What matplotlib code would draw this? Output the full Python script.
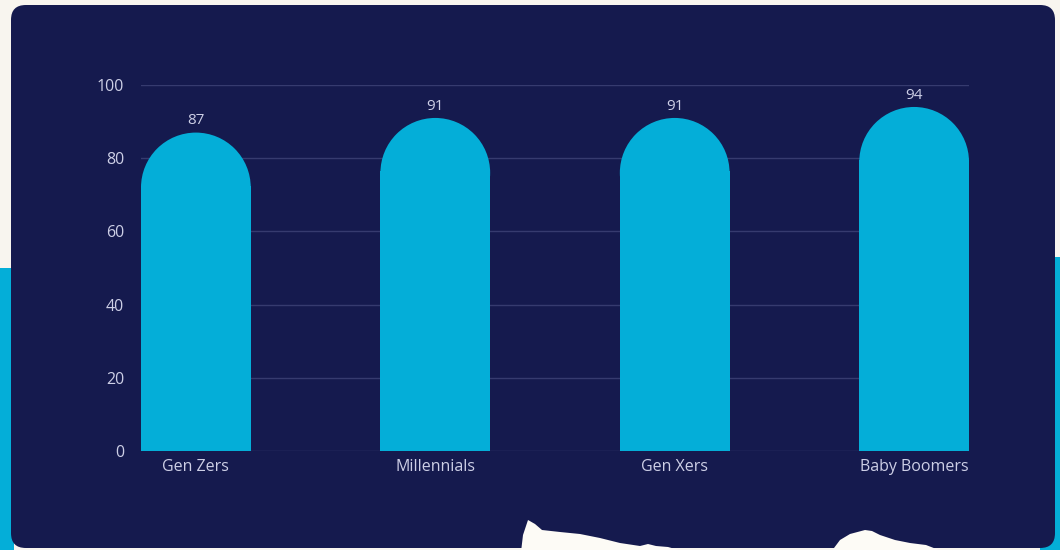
import matplotlib
matplotlib.use("Agg")
import matplotlib.pyplot as plt
from matplotlib.patches import FancyBboxPatch, Rectangle, Ellipse, Polygon

# Data
generations = ["Gen Zers", "Millennials", "Gen Xers", "Baby Boomers"]
shares = [87, 91, 91, 94]
y_ticks = [0, 20, 40, 60, 80, 100]

# Colours
CREAM = "#f8f5ef"
TEAL = "#04aed8"
NAVY = "#151a4e"
GRID = "#363b6f"
TEXT = "#cdcfe6"

plt.rcParams["font.family"] = ["Open Sans", "DejaVu Sans"]

W, H, DPI = 1060, 550, 100
fig = plt.figure(figsize=(W / DPI, H / DPI), dpi=DPI, facecolor=CREAM)

def px(x, y):
    return x / W, 1 - y / H

# Background decoration: teal strips and the dark card
fig.patches.append(Rectangle(px(0, 550), 14 / W, 282 / H, transform=fig.transFigure,
                             facecolor=TEAL, edgecolor="none", zorder=0))
fig.patches.append(Rectangle(px(1040, 550), 20 / W, 293 / H, transform=fig.transFigure,
                             facecolor=TEAL, edgecolor="none", zorder=0))
card = FancyBboxPatch(px(11, 548), (1055 - 11) / W, (548 - 5) / H,
                      boxstyle="round,pad=0,rounding_size=0.014",
                      transform=fig.transFigure, facecolor=NAVY, edgecolor="none",
                      zorder=1, mutation_aspect=W / H)
fig.patches.append(card)

# Torn-paper scraps along the bottom edge
scrap1 = [(521, 552), (523, 535), (528, 520), (535, 524), (542, 530), (560, 532),
          (580, 534), (600, 538), (620, 543), (640, 546), (648, 544), (656, 546),
          (668, 547), (686, 552)]
scrap2 = [(831, 552), (840, 540), (850, 534), (865, 530), (872, 531), (880, 535),
          (895, 540), (910, 543), (926, 545), (944, 552)]
for pts in (scrap1, scrap2):
    fig.patches.append(Polygon([px(x, y) for x, y in pts], closed=True,
                               transform=fig.transFigure, facecolor="#fdfbf6",
                               edgecolor="none", zorder=2))

# Plot area
left, right, top, bottom = 141, 969, 85, 451
ax = fig.add_axes([left / W, 1 - bottom / H, (right - left) / W, (bottom - top) / H])
ax.set_facecolor("none")
ax.set_zorder(3)

bar_w = 110 / 240
xs = list(range(len(generations)))
ax.set_xlim(-bar_w / 2, len(generations) - 1 + bar_w / 2)
ax.set_ylim(0, 100)

# Vertical radius of the rounded cap in data units so the cap is circular on screen
px_per_x = (right - left) / (ax.get_xlim()[1] - ax.get_xlim()[0])
px_per_y = (bottom - top) / 100
ry = (bar_w / 2) * px_per_x / px_per_y

for x, v in zip(xs, shares):
    ax.add_patch(Rectangle((x - bar_w / 2, 0), bar_w, v - ry + 0.5,
                           facecolor=TEAL, edgecolor="none", zorder=3))
    ax.add_patch(Ellipse((x, v - ry), bar_w, 2 * ry,
                         facecolor=TEAL, edgecolor="none", zorder=3))
    ax.text(x, v + 1.2, f"{v}", ha="center", va="bottom", color=TEXT, fontsize=11)

for t in y_ticks:
    ax.axhline(t, color=GRID, lw=1, zorder=1)

ax.set_yticks(y_ticks)
ax.set_yticklabels([str(t) for t in y_ticks])
ax.set_xticks(xs)
ax.set_xticklabels(generations)
ax.tick_params(axis="both", length=0, colors=TEXT, labelsize=11.5)
ax.tick_params(axis="y", pad=12)
ax.tick_params(axis="x", pad=6)
for s in ax.spines.values():
    s.set_visible(False)

fig.savefig("out.png", dpi=DPI, facecolor=CREAM)
